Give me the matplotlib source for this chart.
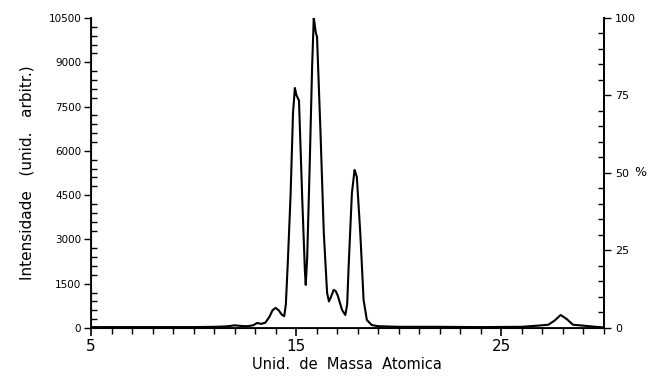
import matplotlib.pyplot as plt
from matplotlib.ticker import MultipleLocator, FixedLocator

# espectro de massa
massa = [5.0, 6.0, 7.0, 8.0, 9.0, 10.0, 11.0, 11.5, 11.8, 12.0, 12.3, 12.6, 12.9,
         13.1, 13.3, 13.5, 13.7, 13.85, 14.0, 14.15, 14.3, 14.42, 14.5, 14.6,
         14.73, 14.85, 14.94, 15.01, 15.14, 15.3, 15.43, 15.47, 15.54, 15.66,
         15.78, 15.86, 15.91, 15.96, 16.02, 16.19, 16.35, 16.51, 16.6, 16.7,
         16.83, 16.93, 17.03, 17.24, 17.4, 17.49, 17.56, 17.72, 17.85, 17.9,
         17.96, 18.13, 18.29, 18.45, 18.69, 19.0, 20.0, 22.0, 24.0, 26.0, 26.8,
         27.3, 27.6, 27.9, 28.2, 28.5, 29.0, 29.3, 29.6, 30.0]
intensidade = [30, 30, 30, 30, 30, 30, 40, 50, 70, 90, 70, 60, 90,
               170, 140, 180, 380, 600, 680, 600, 450, 400, 800, 2300,
               4500, 7300, 8130, 7900, 7700, 4350, 1900, 1460, 2400, 5450,
               8840, 10500, 10260, 10000, 9860, 6600, 3220, 1190, 900, 1050,
               1290, 1250, 1100, 610, 440, 800, 2070, 4570, 5350, 5250,
               5120, 3200, 950, 270, 100, 60, 40, 40, 30, 40, 80,
               110, 250, 440, 300, 110, 80, 60, 40, 20]
xticks = [5, 15, 25]

fig = plt.figure(figsize=(6.52, 3.78), dpi=100)
ax = fig.add_axes([0.1396, 0.1323, 0.7864, 0.8201])
ax.plot(massa, intensidade, color='black', lw=1.5)

ax.set_xlim(5, 30)
ax.set_ylim(0, 10500)
ax.spines['top'].set_visible(False)
ax.xaxis.set_major_locator(FixedLocator(xticks))
ax.xaxis.set_minor_locator(MultipleLocator(1))
ax.yaxis.set_major_locator(MultipleLocator(1500))
ax.yaxis.set_minor_locator(MultipleLocator(300))
ax.tick_params(axis='x', which='major', direction='out', length=6, width=1.2, labelsize=11, pad=2)
ax.tick_params(axis='x', which='minor', direction='out', length=4, width=1)
ax.tick_params(axis='y', which='major', direction='out', length=5, width=1, labelsize=7.5, pad=2)
ax.tick_params(axis='y', which='minor', direction='in', length=4, width=1)
ax.set_xlabel('Unid.  de  Massa  Atomica', fontsize=10.5, labelpad=2)
ax.set_ylabel('Intensidade   (unid.   arbitr.)', fontsize=11, labelpad=10)
for s in ax.spines.values():
    s.set_linewidth(1.3)

ax2 = ax.twinx()
ax2.set_ylim(0, 100)
ax2.spines['top'].set_visible(False)
ax2.spines['right'].set_linewidth(1.3)
ax2.yaxis.set_major_locator(MultipleLocator(25))
ax2.yaxis.set_minor_locator(MultipleLocator(5))
ax2.tick_params(axis='y', which='major', direction='out', length=5, width=1, labelsize=8, pad=3)
ax2.tick_params(axis='y', which='minor', direction='in', length=4, width=1)
ax2.set_ylabel('%', fontsize=9, rotation=0, labelpad=3, va='center')

fig.savefig('out.png', dpi=100)
